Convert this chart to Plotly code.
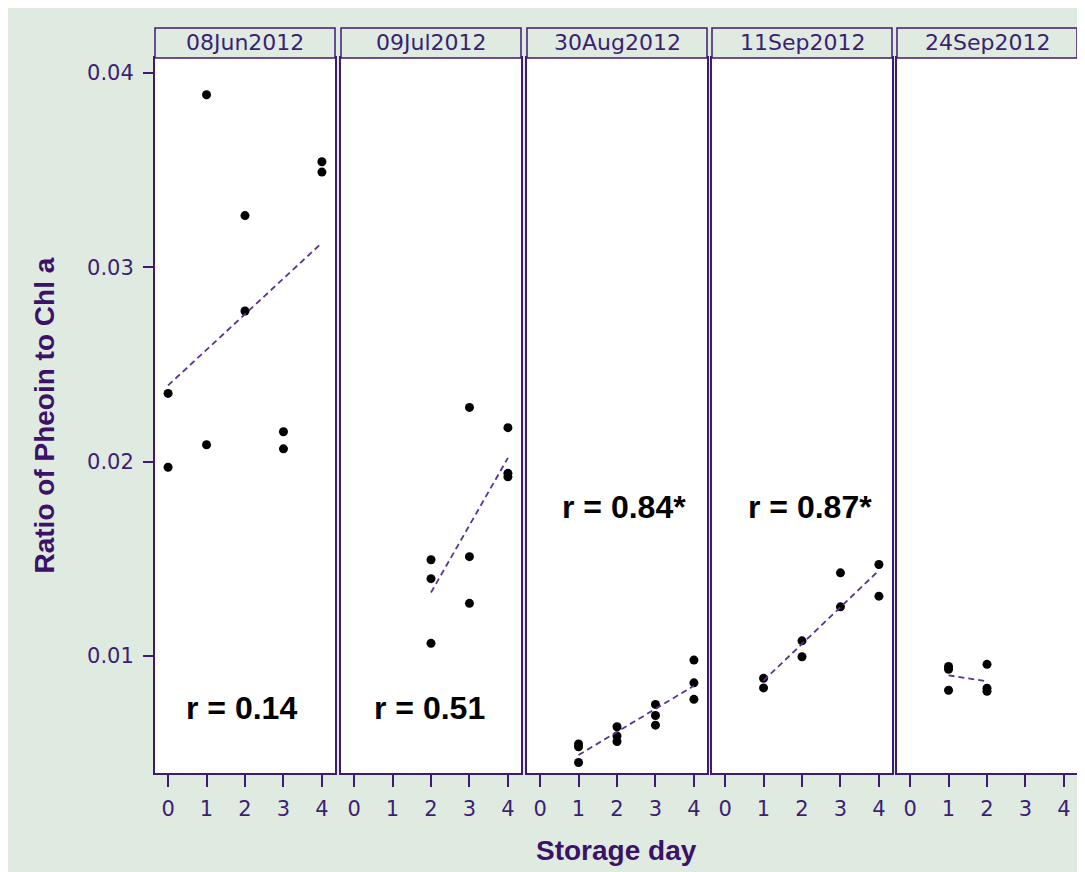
import numpy as np
import plotly.graph_objects as go

# ---------------- data ----------------
dates = ["08Jun2012", "09Jul2012", "30Aug2012", "11Sep2012", "24Sep2012"]

days_jun08 = [0, 0, 1, 1, 2, 2, 3, 3, 4, 4]
ratio_jun08 = [0.02351, 0.01971, 0.03888, 0.02087, 0.03266, 0.02775, 0.02154, 0.02066, 0.03543, 0.03490]

days_jul09 = [2, 2, 2, 3, 3, 3, 4, 4, 4]
ratio_jul09 = [0.01495, 0.01398, 0.01065, 0.02279, 0.01511, 0.01271, 0.02175, 0.01940, 0.01922]

days_aug30 = [1, 1, 1, 2, 2, 2, 3, 3, 3, 4, 4, 4]
ratio_aug30 = [0.00547, 0.00533, 0.00452, 0.00636, 0.00589, 0.00560, 0.00751, 0.00694, 0.00644, 0.00979, 0.00862, 0.00777]

days_sep11 = [1, 1, 2, 2, 3, 3, 4, 4]
ratio_sep11 = [0.00885, 0.00836, 0.01078, 0.00996, 0.01428, 0.01253, 0.01471, 0.01308]

days_sep24 = [1, 1, 1, 2, 2, 2]
ratio_sep24 = [0.00946, 0.00932, 0.00824, 0.00957, 0.00834, 0.00818]

r_labels = ["r = 0.14", "r = 0.51", "r = 0.84*", "r = 0.87*", ""]
r_x = [1.92, 1.97, 2.18, 2.22, None]
r_y = [0.00732, 0.00732, 0.01766, 0.01766, None]

x_ticks = [0, 1, 2, 3, 4]
y_ticks = [0.01, 0.02, 0.03, 0.04]
y_ticktext = ["0.01", "0.02", "0.03", "0.04"]

panels = [
    (days_jun08, ratio_jun08),
    (days_jul09, ratio_jul09),
    (days_aug30, ratio_aug30),
    (days_sep11, ratio_sep11),
    (days_sep24, ratio_sep24),
]

# ---------------- style ----------------
GREEN = "#DFEBE1"
PURPLE = "#3E1B70"
TEXT_PURPLE = "#3C1E72"
LINE_PURPLE = "#5A3291"
TITLE_PURPLE = "#3B1268"

W, H = 1085, 872
ML, MT = 147, 50
PLOT_RIGHT, PLOT_BOTTOM = 1069, 765
MR, MB = W - PLOT_RIGHT, H - PLOT_BOTTOM
PW = PLOT_RIGHT - ML
PH = PLOT_BOTTOM - MT

lefts = [147, 333, 519, 704, 889]
rights = [327, 513, 699, 884, 1069]

fig = go.Figure()

for i, (dx, dy) in enumerate(panels):
    n = i + 1
    xs = "x" if n == 1 else f"x{n}"
    ys = "y" if n == 1 else f"y{n}"
    fig.add_trace(go.Scatter(
        x=dx, y=dy, mode="markers",
        marker=dict(color="black", size=9),
        xaxis=xs, yaxis=ys, showlegend=False, hoverinfo="x+y"))
    # least-squares fit line over the observed range
    b, a = np.polyfit(dx, dy, 1)
    xr = [min(dx), max(dx)]
    fig.add_trace(go.Scatter(
        x=xr, y=[a + b * xr[0], a + b * xr[1]], mode="lines",
        line=dict(color=LINE_PURPLE, width=1.8, dash="6px,4px"),
        xaxis=xs, yaxis=ys, showlegend=False, hoverinfo="skip"))

layout = dict(
    width=W, height=H,
    margin=dict(l=ML, r=MR, t=MT, b=MB, pad=0),
    paper_bgcolor=GREEN,
    plot_bgcolor="white",
    font=dict(family="DejaVu Sans", color=TEXT_PURPLE),
    showlegend=False,
)

shapes = []
annotations = []
for i in range(5):
    n = i + 1
    xk = "xaxis" if n == 1 else f"xaxis{n}"
    yk = "yaxis" if n == 1 else f"yaxis{n}"
    yid = "y" if n == 1 else f"y{n}"
    xid = "x" if n == 1 else f"x{n}"
    layout[xk] = dict(
        domain=[(lefts[i] - ML) / PW, (rights[i] - ML) / PW],
        anchor=yid, range=[-0.34, 4.34],
        tickvals=x_ticks, ticktext=[str(t) for t in x_ticks],
        ticks="outside", ticklen=12, tickwidth=1.5, tickcolor=PURPLE,
        ticklabelstandoff=4,
        tickfont=dict(family="DejaVu Sans", size=21, color=TEXT_PURPLE),
        showline=True, mirror=True, linecolor=PURPLE, linewidth=2,
        showgrid=False, zeroline=False,
    )
    ydict = dict(
        domain=[0, 1], anchor=xid, range=[0.00398, 0.04077],
        showline=True, mirror=True, linecolor=PURPLE, linewidth=2,
        showgrid=False, zeroline=False,
    )
    if n == 1:
        ydict.update(
            tickvals=y_ticks, ticktext=y_ticktext,
            ticks="outside", ticklen=10, tickwidth=1.5, tickcolor=PURPLE,
            ticklabelstandoff=5,
            tickfont=dict(family="DejaVu Sans", size=21, color=TEXT_PURPLE),
        )
    else:
        ydict.update(matches="y", showticklabels=False, ticks="")
    layout[yk] = ydict

    # header strip
    shapes.append(dict(
        type="rect", xref=f"{xid} domain", yref=f"{yid} domain",
        x0=0, x1=1, y0=1, y1=1 + 30 / PH,
        fillcolor=GREEN, line=dict(color=PURPLE, width=1.5), layer="above"))
    annotations.append(dict(
        text=dates[i], xref=f"{xid} domain", yref=f"{yid} domain",
        x=0.5, y=1 + 15 / PH, xanchor="center", yanchor="middle",
        showarrow=False, font=dict(family="DejaVu Sans", size=22, color=TEXT_PURPLE)))
    if r_labels[i]:
        annotations.append(dict(
            text=f"<b>{r_labels[i]}</b>", xref=xid, yref=yid,
            x=r_x[i], y=r_y[i], xanchor="center", yanchor="middle",
            showarrow=False,
            font=dict(family="Liberation Sans", size=32, color="black")))

# axis titles
annotations.append(dict(
    text="<b>Ratio of Pheoin to Chl a</b>", xref="paper", yref="paper",
    x=(36 - ML) / PW, y=0.5, textangle=-90, xanchor="center", yanchor="middle",
    showarrow=False, font=dict(family="Liberation Sans", size=28, color=TITLE_PURPLE)))
annotations.append(dict(
    text="<b>Storage day</b>", xref="paper", yref="paper",
    x=0.5, y=-(842 - PLOT_BOTTOM) / PH,
    xanchor="center", yanchor="middle",
    showarrow=False, font=dict(family="Liberation Sans", size=28, color=TITLE_PURPLE)))

layout["shapes"] = shapes
layout["annotations"] = annotations
fig.update_layout(**layout)

fig.write_html("out.html")
